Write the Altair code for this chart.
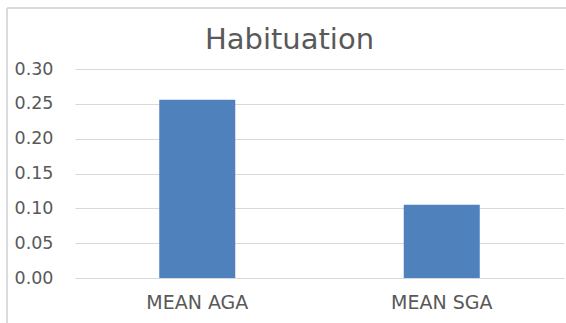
import altair as alt
import pandas as pd

# Group means for the habituation measure
groups = ["MEAN AGA", "MEAN SGA"]
means = [0.256, 0.105]
y_ticks = [0.0, 0.05, 0.10, 0.15, 0.20, 0.25, 0.30]

df = pd.DataFrame({"group": groups, "mean": means})

FONT = "DejaVu Sans"
GREY_TEXT = "#595959"
GRID = "#d9d9d9"

bars = alt.Chart(df).mark_bar(size=76, color="#4f81bd").encode(
    x=alt.X(
        "group:N",
        sort=groups,
        title=None,
        scale=alt.Scale(paddingInner=0, paddingOuter=0),
        axis=alt.Axis(
            labelAngle=0,
            labelFont=FONT,
            labelFontSize=19,
            labelColor=GREY_TEXT,
            labelPadding=15,
            ticks=False,
            domain=False,
            grid=False,
        ),
    ),
    y=alt.Y(
        "mean:Q",
        title=None,
        scale=alt.Scale(domain=[0, 0.3], nice=False),
        axis=alt.Axis(
            values=y_ticks,
            format=".2f",
            labelFont=FONT,
            labelFontSize=17.5,
            labelColor=GREY_TEXT,
            labelPadding=22,
            ticks=False,
            domain=False,
            grid=True,
            gridColor=GRID,
            gridWidth=1.2,
        ),
    ),
)

# Outer chart frame (left and top edges)
frame_left = alt.Chart(df).mark_rule(color=GRID, strokeWidth=1.5).encode(
    x=alt.value(-68), y=alt.value(-61), y2=alt.value(260)
)
frame_top = alt.Chart(df).mark_rule(color=GRID, strokeWidth=1.5).encode(
    x=alt.value(-68), x2=alt.value(495), y=alt.value(-61)
)

chart = (
    alt.layer(frame_left, frame_top, bars)
    .properties(
        width=489,
        height=209,
        autosize=alt.AutoSizeParams(type="none"),
        padding={"left": 75, "top": 69, "right": 2, "bottom": 45},
        title=alt.TitleParams(
            "Habituation",
            font=FONT,
            fontSize=29,
            fontWeight="normal",
            color=GREY_TEXT,
            anchor="middle",
            frame="group",
            dx=-30,
            offset=-48,
        ),
    )
    .configure(background="white")
    .configure_view(strokeWidth=0, stroke="transparent")
)

chart.save("out.html", embed_options={"renderer": "svg", "actions": False})
